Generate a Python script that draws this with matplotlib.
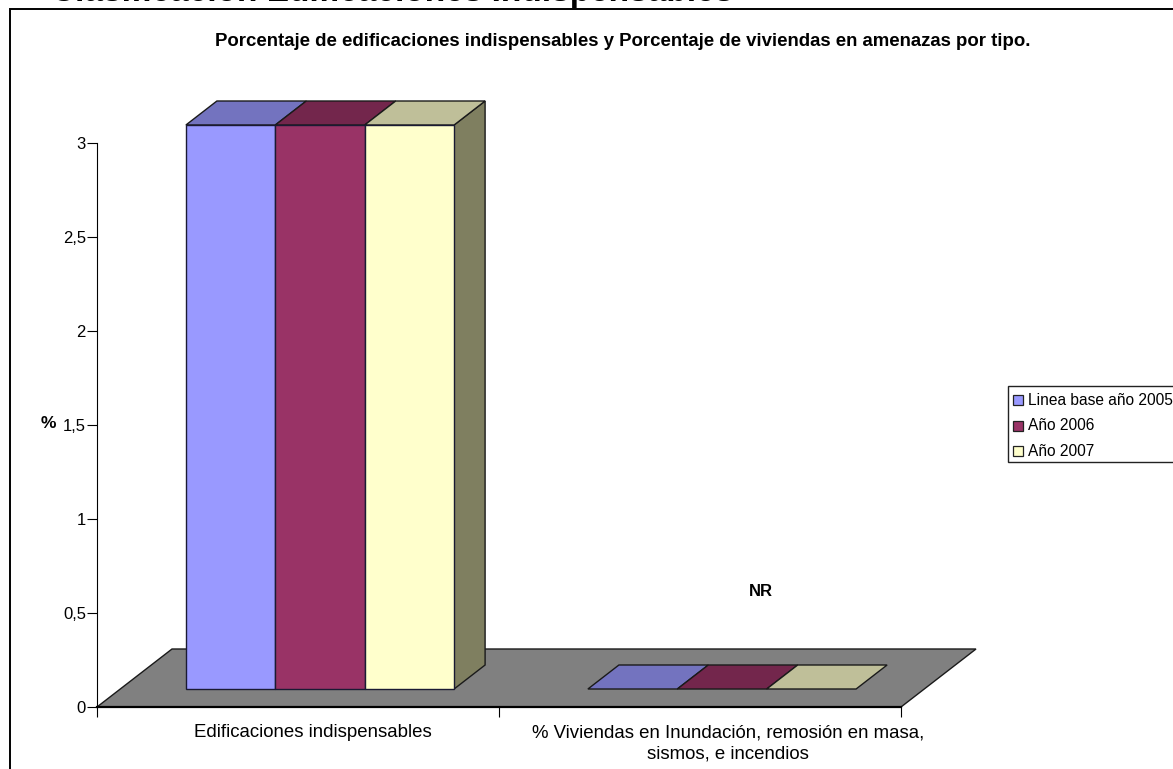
import numpy as np
import matplotlib
matplotlib.use("Agg")
import matplotlib.pyplot as plt
from matplotlib.patches import Polygon, Rectangle

plt.rcParams['font.family'] = ['Liberation Sans', 'DejaVu Sans']

categories = ["Edificaciones indispensables",
              "% Viviendas en Inundación, remosión en masa,\nsismos, e incendios"]
series = ["Linea base año 2005", "Año 2006", "Año 2007"]
edificaciones = [3, 3, 3]
viviendas = [0, 0, 0]
yticks = [0, 0.5, 1, 1.5, 2, 2.5, 3]
yticklabels = ["0", "0,5", "1", "1,5", "2", "2,5", "3"]

front = ["#9999FF", "#993366", "#FFFFCC"]
top = ["#7373BF", "#73264C", "#BFBF99"]
side = ["#7373BF", "#73264C", "#7F7F60"]

W, H = 1173, 769
fig = plt.figure(figsize=(W / 100, H / 100), dpi=100)
fig.patch.set_facecolor("white")
ax = fig.add_axes([97 / W, 1 - 707 / H, 804 / W, 564 / H])
ax.set_xlim(0, 2)
ax.set_ylim(0, 3)
ax.patch.set_alpha(0)

# depth of the floor and of the bars, in data units
floor_dx, floor_dy = 75 / 402, 58 / 188
bar_x0, bar_y0 = 22 / 402, 18 / 188
bar_dx, bar_dy = 31 / 402, 24 / 188
bar_w = 89.4 / 402


def poly(pts, fc, lw=1.0, z=2):
    ax.add_patch(Polygon(pts, closed=True, fc=fc, ec="#1a1a1a", lw=lw, zorder=z, clip_on=False))


# floor
poly([(0, 0), (2, 0), (2 + floor_dx, floor_dy), (floor_dx, floor_dy)], "#808080", z=1)
ax.plot([0, 2], [0, 0], color="black", lw=1.6, zorder=1.5, clip_on=False)

for i, vals in enumerate([edificaciones, viviendas]):
    left = i + 0.5 - 1.5 * bar_w + bar_x0
    for j, v in enumerate(vals):
        x0 = left + j * bar_w
        x1 = x0 + bar_w
        y0 = bar_y0
        y1 = bar_y0 + v
        if v > 0:
            if j == len(vals) - 1:
                poly([(x1, y0), (x1 + bar_dx, y0 + bar_dy), (x1 + bar_dx, y1 + bar_dy), (x1, y1)], side[j], z=3)
            ax.add_patch(Rectangle((x0, y0), bar_w, v, fc=front[j], ec="#1a1a33", lw=1.0, zorder=4, clip_on=False))
        poly([(x0, y1), (x1, y1), (x1 + bar_dx, y1 + bar_dy), (x0 + bar_dx, y1 + bar_dy)], top[j], z=3)

fig.text(761 / W, 1 - 591 / H, "NR", ha="center", va="center", fontsize=12, fontweight="bold", color="black")

for s in ["top", "right"]:
    ax.spines[s].set_visible(False)
ax.spines["left"].set_linewidth(0.8)
ax.spines["bottom"].set_visible(False)
ax.set_yticks(yticks)
ax.set_yticklabels(yticklabels, fontsize=12)
ax.set_xticks([0, 1, 2])
ax.set_xticklabels([])
ax.tick_params(axis="y", length=7, width=0.8, pad=1)
ax.tick_params(axis="x", length=7, width=0.8)
# labels sit a bit right of the category centres, as in the reference
label_shift = [15, 28]
for i, c in enumerate(categories):
    ax.annotate(c, (i + 0.5, 0), xytext=(label_shift[i] * 0.72, -12.5), textcoords="offset points", ha="center",
                va="top", fontsize=13.4, linespacing=1.3, annotation_clip=False)

fig.text(48 / W, 1 - 424 / H, "%", ha="center", va="center", fontsize=12.5, fontweight="bold")
fig.text(622.5 / W, 1 - 41 / H, "Porcentaje de edificaciones indispensables y Porcentaje de viviendas en amenazas por tipo.",
         ha="center", va="center", fontsize=13.4, fontweight="bold")
fig.text(392 / W, 1 - 1 / H, "Clasificación Edificaciones Indispensables", ha="center", va="baseline",
         fontsize=24, fontweight="bold")

# chart frame
fig.add_artist(Rectangle((10 / W, -0.01), (W - 9) / W, 1 - 9 / H + 0.01, transform=fig.transFigure,
                         fc="none", ec="black", lw=1.4, zorder=0))

# legend box, cut by the right edge like the reference
fig.add_artist(Rectangle((1007.5 / W, 1 - 461.5 / H), 170 / W, 76 / H, transform=fig.transFigure,
                         fc="white", ec="#222222", lw=1.0, zorder=5, clip_on=False))
for k, (name, y) in enumerate(zip(series, [400, 426, 451])):
    fig.add_artist(Rectangle((1012.5 / W, 1 - (y + 5) / H), 10 / W, 10 / H, transform=fig.transFigure,
                             fc=front[k], ec="#222222", lw=0.9, zorder=6))
    fig.text(1028 / W, 1 - y / H, name, ha="left", va="center", fontsize=11.2, zorder=6)

fig.savefig("out.png", dpi=100)
